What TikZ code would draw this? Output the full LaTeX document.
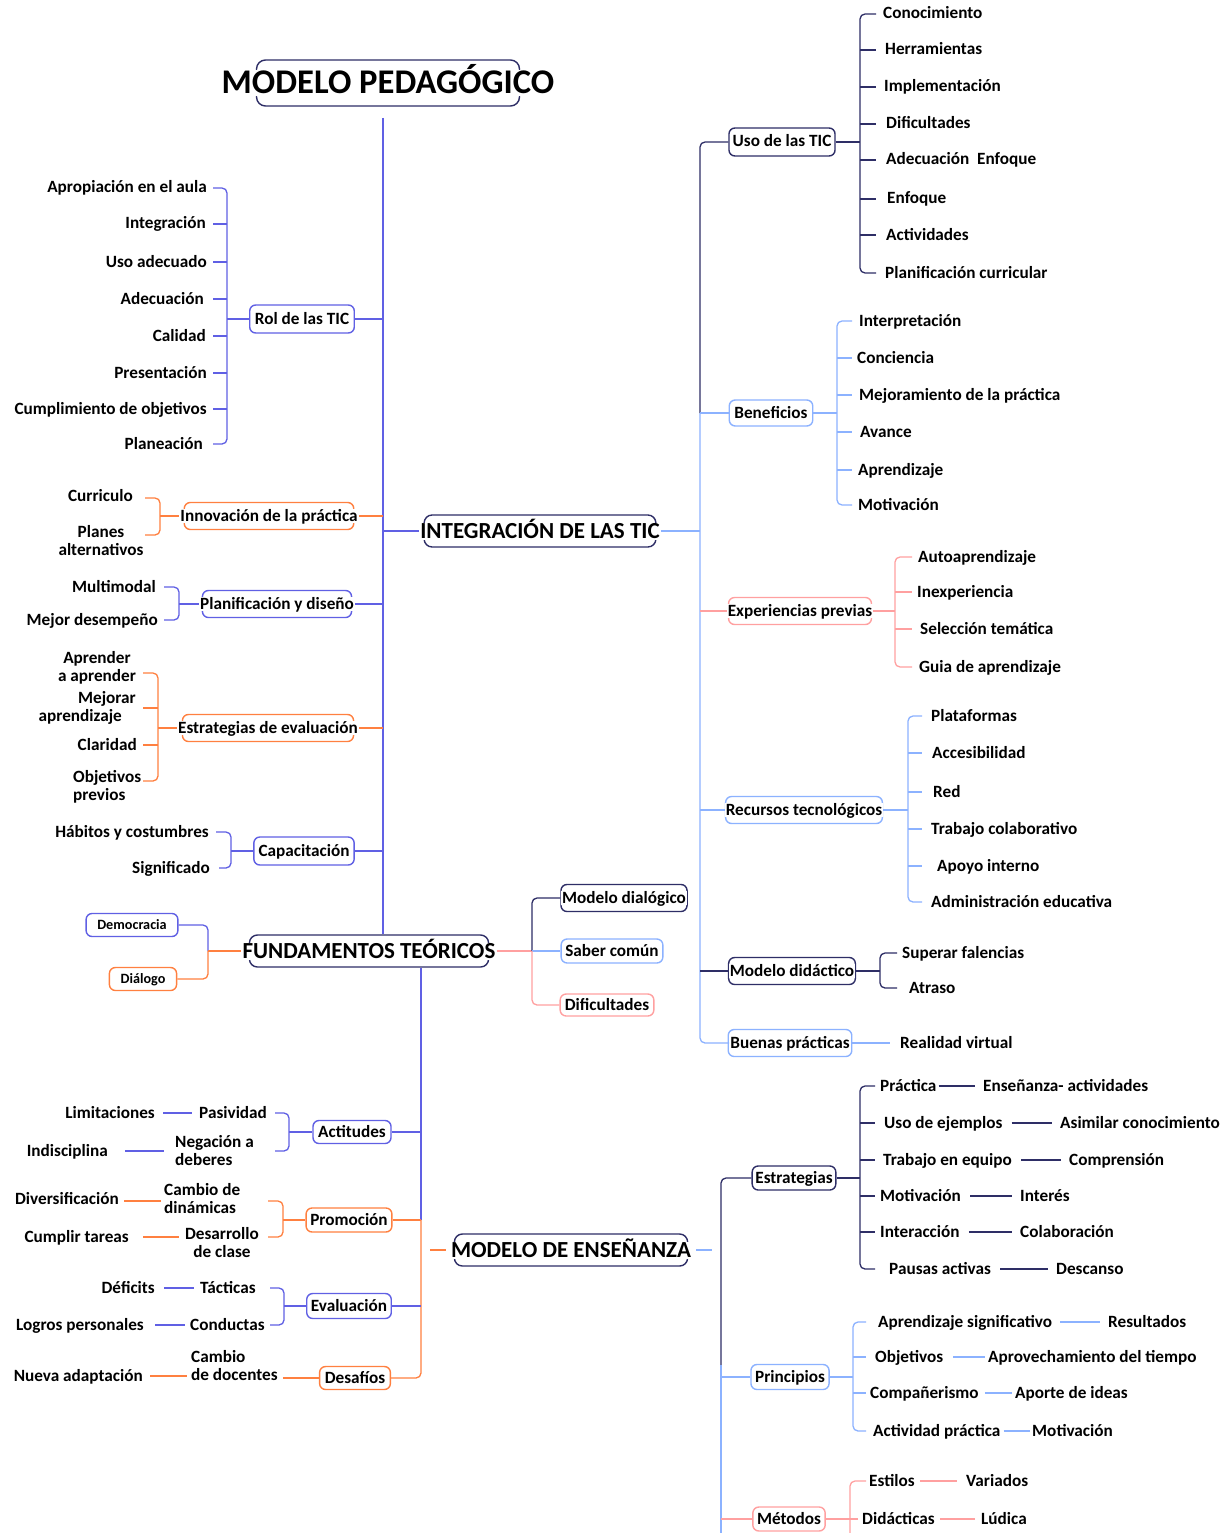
\documentclass[tikz,border=0pt]{standalone}
\usepackage{fontspec}
\setmainfont{Carlito}
\usetikzlibrary{backgrounds,fit,calc}

\definecolor{navy}{RGB}{46,46,102}
\definecolor{peri}{RGB}{96,96,228}
\definecolor{orng}{RGB}{255,128,64}
\definecolor{lblue}{RGB}{140,178,255}
\definecolor{rosa}{RGB}{255,160,160}

\newcommand\fsz[1]{\fontsize{#1}{#1}\selectfont}
% rounded frame around a label: colour, label, horizontal inset, half height, corner radius
\newcommand\mmframe[5]{%
  \node[bframe=#1, rounded corners=#5, inner xsep=0pt, inner ysep=#4,
        fit={([xshift=#3]#2.west) ([xshift=-1*(#3)]#2.east)}] (#2-f) {};}

\tikzset{
  every node/.style={inner sep=0pt, font=\bfseries\fsz{17.2}},
  lf/.style={text height=12pt, text depth=2pt},
  ml/.style={align=#1, font=\bfseries\fontsize{17.2}{18}\selectfont},
  lab/.style={fill=white, inner xsep=1pt, inner ysep=0pt, text height=12pt, text depth=2pt},
  ttl/.style={lab, font=\bfseries\fsz{23}, text height=16pt, text depth=1pt},
  bframe/.style={draw=#1, line width=1.4pt, fill=none},
  ln/.style={draw=#1, line width=1.3pt},
  br/.style={ln=#1, rounded corners=5pt},
}

\begin{document}
\begin{tikzpicture}[x=1pt, y=-1pt]
\useasboundingbox (0,0) rectangle (1230,1533);
\begin{scope}[on background layer]
  \fill[white] (0,0) rectangle (1230,1533);
\end{scope}

% ---------- main labels ----------
\node[ttl, font=\bfseries\fsz{34.6}, text height=24pt, text depth=2pt] (mp) at (388,83) {MODELO PEDAGÓGICO};
\node[ttl] (integ) at (540,531) {INTEGRACIÓN DE LAS TIC};
\node[ttl] (fund)  at (369,951) {FUNDAMENTOS TEÓRICOS};
\node[ttl] (me)    at (571,1250) {MODELO DE ENSEÑANZA};

% ---------- left branch labels ----------
\node[lab] (rol) at (302,319) {Rol de las TIC};
\node[lab] (inn) at (269,516) {Innovación de la práctica};
\node[lab] (pla) at (277,604) {Planificación y diseño};
\node[lab] (eev) at (268,728) {Estrategias de evaluación};
\node[lab] (cap) at (304,851) {Capacitación};
\node[lab, font=\bfseries\fsz{14.2}, text height=10pt, text depth=2pt] (dem) at (132,925) {Democracia};
\node[lab, font=\bfseries\fsz{14.2}, text height=10pt, text depth=2pt] (dia) at (143,979) {Diálogo};
\node[lab] (dial) at (624,898) {Modelo dialógico};
\node[lab] (sab)  at (612,951) {Saber común};
\node[lab] (dif)  at (607,1005) {Dificultades};
\node[lab] (act) at (352,1132) {Actitudes};
\node[lab] (pro) at (349,1220) {Promoción};
\node[lab] (eva) at (349,1306) {Evaluación};
\node[lab] (des) at (355,1378) {Desafíos};

% ---------- right branch labels ----------
\node[lab] (uso) at (782,142) {Uso de las TIC};
\node[lab] (ben) at (771,413) {Beneficios};
\node[lab] (exp) at (800,611) {Experiencias previas};
\node[lab] (rec) at (804,810) {Recursos tecnológicos};
\node[lab] (did) at (792,971) {Modelo didáctico};
\node[lab] (bue) at (790,1043) {Buenas prácticas};
\node[lab] (est) at (794,1178) {Estrategias};
\node[lab] (pri) at (790,1377) {Principios};
\node[lab] (met) at (789,1519) {Métodos};

% ---------- frames ----------
\begin{scope}[on background layer]
  \mmframe{navy}{mp}{36pt}{23pt}{9pt}
  \mmframe{navy}{integ}{5pt}{16pt}{8pt}
  \mmframe{navy}{fund}{8pt}{16pt}{8pt}
  \mmframe{navy}{me}{4.5pt}{16pt}{8pt}
  \mmframe{peri}{rol}{-4pt}{14pt}{6pt}
  \mmframe{orng}{inn}{5pt}{13.5pt}{6pt}
  \mmframe{peri}{pla}{3.5pt}{13.5pt}{6pt}
  \mmframe{orng}{eev}{5.5pt}{13.5pt}{6pt}
  \mmframe{peri}{cap}{-3.5pt}{14pt}{6pt}
  \mmframe{peri}{dem}{-10pt}{11.5pt}{6pt}
  \mmframe{orng}{dia}{-10pt}{11.5pt}{6pt}
  \mmframe{navy}{dial}{0pt}{13.5pt}{6pt}
  \mmframe{lblue}{sab}{-3pt}{12pt}{6pt}
  \mmframe{rosa}{dif}{-3.5pt}{11pt}{6pt}
  \mmframe{peri}{act}{-4pt}{11.5pt}{6pt}
  \mmframe{orng}{pro}{-3pt}{12pt}{6pt}
  \mmframe{peri}{eva}{-3pt}{12.5pt}{6pt}
  \mmframe{orng}{des}{-4pt}{11.5pt}{6pt}
  \mmframe{navy}{uso}{-2.5pt}{14pt}{6pt}
  \mmframe{lblue}{ben}{-4pt}{13pt}{6pt}
  \mmframe{rosa}{exp}{2pt}{13.5pt}{6pt}
  \mmframe{lblue}{rec}{1pt}{13.5pt}{6pt}
  \mmframe{navy}{did}{0pt}{13.5pt}{6pt}
  \mmframe{lblue}{bue}{-1pt}{13.5pt}{6pt}
  \mmframe{navy}{est}{-2pt}{12pt}{6pt}
  \mmframe{lblue}{pri}{-3pt}{12.5pt}{6pt}
  \mmframe{rosa}{met}{-3pt}{12pt}{6pt}
\end{scope}

% ---------- leaves: Rol de las TIC ----------
\node[lf, anchor=east] (r1) at (207,188) {Apropiación en el aula};
\node[lf, anchor=east] (r2) at (206,224) {Integración};
\node[lf, anchor=east] (r3) at (207,262) {Uso adecuado};
\node[lf, anchor=east] (r4) at (204,299) {Adecuación};
\node[lf, anchor=east] (r5) at (206,336) {Calidad};
\node[lf, anchor=east] (r6) at (207,373) {Presentación};
\node[lf, anchor=east] (r7) at (207,409) {Cumplimiento de objetivos};
\node[lf, anchor=east] (r8) at (203,444) {Planeación};

% ---------- leaves: Innovación / Planificación / Estrategias / Capacitación ----------
\node[lf, anchor=east] (cur) at (133,496) {Curriculo};
\node[ml=center] (pal) at (101,541) {Planes\\alternativos};
\node[lf, anchor=east] (mul) at (156,587) {Multimodal};
\node[lf, anchor=east] (mde) at (158,620) {Mejor desempeño};
\node[ml=center] (apr) at (97,668) {Aprender\\a aprender};
\node[ml=right, anchor=east] (mej) at (136,708) {Mejorar\\aprendizaje\hspace*{14pt}};
\node[lf, anchor=east] (cla) at (137,745) {Claridad};
\node[ml=left, anchor=west] (obj) at (73,787) {Objetivos\\previos};
\node[lf, anchor=east] (hab) at (209,832) {Hábitos y costumbres};
\node[lf, anchor=east] (sig) at (210,868) {Significado};

% ---------- leaves: Actitudes / Promoción / Evaluación / Desafíos ----------
\node[lf, anchor=west] (pas) at (199,1113) {Pasividad};
\node[lf, anchor=east] (lim) at (155,1113) {Limitaciones};
\node[ml=left, anchor=west] (neg) at (175,1151) {Negación a\\deberes};
\node[lf, anchor=east] (ind) at (108,1151) {Indisciplina};
\node[ml=left, anchor=west] (cam) at (164,1199) {Cambio de\\dinámicas};
\node[lf, anchor=east] (div) at (119,1199) {Diversificación};
\node[ml=center] (dcl) at (222,1243) {Desarrollo\\de clase};
\node[lf, anchor=east] (cum) at (129,1237) {Cumplir tareas};
\node[lf, anchor=west] (tac) at (200,1288) {Tácticas};
\node[lf, anchor=east] (def) at (155,1288) {Déficits};
\node[lf, anchor=west] (con) at (190,1325) {Conductas};
\node[lf, anchor=east] (log) at (144,1325) {Logros personales};
\node[ml=left, anchor=west] (cdo) at (191,1366) {Cambio\\de docentes};
\node[lf, anchor=east] (nue) at (143,1376) {Nueva adaptación};

% ---------- leaves: Uso de las TIC ----------
\node[lf, anchor=west] (u1) at (883,14) {Conocimiento};
\node[lf, anchor=west] (u2) at (885,50) {Herramientas};
\node[lf, anchor=west] (u3) at (884,87) {Implementación};
\node[lf, anchor=west] (u4) at (886,124) {Dificultades};
\node[lf, anchor=west] (u5) at (886,160) {Adecuación~~Enfoque};
\node[lf, anchor=west] (u6) at (887,199) {Enfoque};
\node[lf, anchor=west] (u7) at (886,235) {Actividades};
\node[lf, anchor=west] (u8) at (885,273) {Planificación curricular};

% ---------- leaves: Beneficios ----------
\node[lf, anchor=west] (b1) at (859,321) {Interpretación};
\node[lf, anchor=west] (b2) at (857,358) {Conciencia};
\node[lf, anchor=west] (b3) at (859,395) {Mejoramiento de la práctica};
\node[lf, anchor=west] (b4) at (860,432) {Avance};
\node[lf, anchor=west] (b5) at (858,470) {Aprendizaje};
\node[lf, anchor=west] (b6) at (858,505) {Motivación};

% ---------- leaves: Experiencias previas ----------
\node[lf, anchor=west] (x1) at (918,557) {Autoaprendizaje};
\node[lf, anchor=west] (x2) at (917,592) {Inexperiencia};
\node[lf, anchor=west] (x3) at (920,629) {Selección temática};
\node[lf, anchor=west] (x4) at (919,667) {Guia de aprendizaje};

% ---------- leaves: Recursos tecnológicos ----------
\node[lf, anchor=west] (c1) at (931,716) {Plataformas};
\node[lf, anchor=west] (c2) at (932,753) {Accesibilidad};
\node[lf, anchor=west] (c3) at (933,792) {Red};
\node[lf, anchor=west] (c4) at (931,829) {Trabajo colaborativo};
\node[lf, anchor=west] (c5) at (937,866) {Apoyo interno};
\node[lf, anchor=west] (c6) at (931,902) {Administración educativa};

% ---------- leaves: Modelo didáctico / Buenas prácticas ----------
\node[lf, anchor=west] (d1) at (902,953) {Superar falencias};
\node[lf, anchor=west] (d2) at (909,988) {Atraso};
\node[lf, anchor=west] (rea) at (900,1043) {Realidad virtual};

% ---------- leaves: Estrategias ----------
\node[lf, anchor=west] (e1) at (880,1086) {Práctica};
\node[lf, anchor=west] (f1) at (983,1086) {Enseñanza- actividades};
\node[lf, anchor=west] (e2) at (884,1123) {Uso de ejemplos};
\node[lf, anchor=west] (f2) at (1060,1123) {Asimilar conocimiento};
\node[lf, anchor=west] (e3) at (883,1160) {Trabajo en equipo};
\node[lf, anchor=west] (f3) at (1069,1160) {Comprensión};
\node[lf, anchor=west] (e4) at (880,1196) {Motivación};
\node[lf, anchor=west] (f4) at (1020,1196) {Interés};
\node[lf, anchor=west] (e5) at (880,1232) {Interacción};
\node[lf, anchor=west] (f5) at (1020,1232) {Colaboración};
\node[lf, anchor=west] (e6) at (889,1269) {Pausas activas};
\node[lf, anchor=west] (f6) at (1056,1269) {Descanso};

% ---------- leaves: Principios ----------
\node[lf, anchor=west] (p1) at (878,1322) {Aprendizaje significativo};
\node[lf, anchor=west] (q1) at (1108,1322) {Resultados};
\node[lf, anchor=west] (p2) at (875,1357) {Objetivos};
\node[lf, anchor=west] (q2) at (988,1357) {Aprovechamiento del tiempo};
\node[lf, anchor=west] (p3) at (870,1393) {Compañerismo};
\node[lf, anchor=west] (q3) at (1015,1393) {Aporte de ideas};
\node[lf, anchor=west] (p4) at (873,1431) {Actividad práctica};
\node[lf, anchor=west] (q4) at (1032,1431) {Motivación};

% ---------- leaves: Métodos ----------
\node[lf, anchor=west] (m1) at (869,1481) {Estilos};
\node[lf, anchor=west] (n1) at (966,1481) {Variados};
\node[lf, anchor=west] (m2) at (862,1519) {Didácticas};
\node[lf, anchor=west] (n2) at (981,1519) {Lúdica};

% ---------- junction points ----------
\coordinate (tt)    at (383,118);
\coordinate (rolB)  at (227,319);
\coordinate (innB)  at (160,516);
\coordinate (plaB)  at (179,604);
\coordinate (eevB)  at (158,728);
\coordinate (capB)  at (231,851);
\coordinate (fundB) at (208,951);
\coordinate (fundR) at (532,951);
\coordinate (fdJ)   at (421,1220);
\coordinate (actB)  at (289,1132);
\coordinate (proB)  at (283,1220);
\coordinate (evaB)  at (284,1306);
\coordinate (meL)   at (430,1250);
\coordinate (meR)   at (712,1250);
\coordinate (rv)    at (700,531);
\coordinate (usoB)  at (860,142);
\coordinate (benB)  at (837,413);
\coordinate (expB)  at (895,611);
\coordinate (recB)  at (908,810);
\coordinate (didB)  at (880,971);
\coordinate (estB)  at (860,1178);
\coordinate (priB)  at (853,1377);
\coordinate (metB)  at (850,1519);
\coordinate (metEnd) at (850,1533);
\coordinate (mvMid) at (721,1365);
\coordinate (mvEnd) at (721,1533);

% ---------- trunk ----------
\draw[ln=peri] (tt) -- (tt |- fund-f.north);
\draw[ln=peri] (integ.west -| tt) -- (integ.west);

% Rol de las TIC
\draw[br=peri] (r1.east -| rolB) ++(-14,0) -- (r1.east -| rolB) -- (r8.east -| rolB) -- ++(-14,0);
\foreach \n in {r2,r3,r4,r5,r6,r7} \draw[ln=peri] (\n.east -| rolB) -- ++(-14,0);
\draw[ln=peri] (rolB) -- (rol-f.west);
\draw[ln=peri] (rol-f.east) -- (rol-f.east -| tt);

% Innovación de la práctica
\draw[br=orng] ($(cur.east -| innB)+(-15,2)$) -- ($(cur.east -| innB)+(0,2)$) -- ($(pal.east -| innB)+(0,-6)$) -- ++(-15,0);
\draw[ln=orng] (innB) -- (inn.west);
\draw[ln=orng] (inn.east) -- (inn.east -| tt);

% Planificación y diseño
\draw[br=peri] (mul.east -| plaB) ++(-15,0) -- (mul.east -| plaB) -- (mde.east -| plaB) -- ++(-15,0);
\draw[ln=peri] (plaB) -- (pla.west);
\draw[ln=peri] (pla.east) -- (pla.east -| tt);

% Estrategias de evaluación
\draw[br=orng] ($(apr.east -| eevB)+(-15,5)$) -- ($(apr.east -| eevB)+(0,5)$) -- ($(obj.east -| eevB)+(0,-6)$) -- ++(-15,0);
\draw[ln=orng] (mej.east -| eevB) -- ++(-15,0);
\draw[ln=orng] (cla.east -| eevB) -- ++(-15,0);
\draw[ln=orng] (eevB) -- (eev.west);
\draw[ln=orng] (eev.east) -- (eev.east -| tt);

% Capacitación
\draw[br=peri] (hab.east -| capB) ++(-15,0) -- (hab.east -| capB) -- (sig.east -| capB) -- ++(-12,0);
\draw[ln=peri] (capB) -- (cap-f.west);
\draw[ln=peri] (cap-f.east) -- (cap-f.east -| tt);

% Fundamentos teóricos
\draw[br=peri] (dem-f.east) -| (fundB);
\draw[br=orng] (fundB) |- (dia-f.east);
\draw[ln=orng] (fundB) -- (fund.west);
\draw[ln=rosa] (fund.east) -- (fundR);
\draw[br=navy] (fundR) |- (dial-f.west);
\draw[ln=lblue] (fundR) -- (sab-f.west);
\draw[br=rosa] (fundR) |- (dif-f.west);

% stem below Fundamentos teóricos
\draw[ln=peri] (fund-f.south -| fdJ) -- (fdJ);
\draw[ln=peri] (act-f.east) -- (act-f.east -| fdJ);
\draw[br=orng] (fdJ) |- (des-f.east);
\draw[ln=orng] (pro-f.east) -- (fdJ);
\draw[ln=peri] (eva-f.east) -- (eva-f.east -| fdJ);

% Actitudes
\draw[br=peri] (pas.east -| actB) ++(-14,0) -- (pas.east -| actB) -- (neg.east -| actB) -- ++(-14,0);
\draw[ln=peri] (actB) -- (act-f.west);
\draw[ln=peri] ([xshift=8pt]lim.east) -- ([xshift=-7pt]pas.west);
\draw[ln=peri] ([xshift=17pt]ind.east) -- ([xshift=-11pt]neg.west);

% Promoción
\draw[br=orng] ($(cam.east -| proB)+(-15,2)$) -- ($(cam.east -| proB)+(0,2)$) -- ($(dcl.east -| proB)+(0,-6)$) -- ++(-15,0);
\draw[ln=orng] (proB) -- (pro-f.west);
\draw[ln=orng] ($(div.east)+(5,2)$) -- ($(cam.west)+(-3,2)$);
\draw[ln=orng] ([xshift=14pt]cum.east) -- ($(dcl.west)+(-6,-6)$);

% Evaluación
\draw[br=peri] (tac.east -| evaB) ++(-14,0) -- (tac.east -| evaB) -- (con.east -| evaB) -- ++(-14,0);
\draw[ln=peri] (evaB) -- (eva-f.west);
\draw[ln=peri] ([xshift=9pt]def.east) -- ([xshift=-6pt]tac.west);
\draw[ln=peri] ([xshift=11pt]log.east) -- ([xshift=-5pt]con.west);

% Desafíos
\draw[ln=orng] ($(cdo.east)+(5,12)$) -- (des-f.west);
\draw[ln=orng] ([xshift=7pt]nue.east) -- ($(cdo.west)+(-4,10)$);

% Modelo de enseñanza stubs
\draw[ln=orng] (meL) -- ([xshift=-4pt]me.west);
\draw[ln=lblue] ([xshift=4pt]me.east) -- (meR);

% ---------- right side of Integración de las TIC ----------
\draw[ln=lblue] (integ.east) -- (rv);
\draw[br=navy] (uso-f.west) -| (rv |- ben-f.west);
\draw[br=lblue] (rv |- ben-f.west) |- (bue.west);
\draw[ln=lblue] (ben-f.west) -- (ben-f.west -| rv);
\draw[ln=rosa] (exp.west) -- (exp.west -| rv);
\draw[ln=lblue] (rec.west) -- (rec.west -| rv);
\draw[ln=navy] (did.west) -- (did.west -| rv);

% Uso de las TIC
\draw[ln=navy] (uso-f.east) -- (usoB);
\draw[br=navy] (u1.west -| usoB) ++(16,0) -- (u1.west -| usoB) -- (u8.west -| usoB) -- ++(16,0);
\foreach \n in {u2,u3,u4,u5,u6,u7} \draw[ln=navy] (\n.west -| usoB) -- ++(16,0);

% Beneficios
\draw[ln=lblue] (ben-f.east) -- (benB);
\draw[br=lblue] (b1.west -| benB) ++(15,0) -- (b1.west -| benB) -- (b6.west -| benB) -- ++(15,0);
\foreach \n in {b2,b3,b4,b5} \draw[ln=lblue] (\n.west -| benB) -- ++(15,0);

% Experiencias previas
\draw[ln=rosa] (exp.east) -- (expB);
\draw[br=rosa] (x1.west -| expB) ++(17,0) -- (x1.west -| expB) -- (x4.west -| expB) -- ++(17,0);
\foreach \n in {x2,x3} \draw[ln=rosa] (\n.west -| expB) -- ++(17,0);

% Recursos tecnológicos
\draw[ln=lblue] (rec.east) -- (recB);
\draw[br=lblue] (c1.west -| recB) ++(14,0) -- (c1.west -| recB) -- (c6.west -| recB) -- ++(14,0);
\foreach \n in {c2,c3,c4,c5} \draw[ln=lblue] (\n.west -| recB) -- ++(14,0);

% Modelo didáctico
\draw[ln=navy] (did-f.east) -- (didB);
\draw[br=navy] (d1.west -| didB) ++(17,0) -- (d1.west -| didB) -- (d2.west -| didB) -- ++(17,0);

% Buenas prácticas
\draw[ln=lblue] (bue.east) -- ([xshift=-10pt]rea.west);

% ---------- Modelo de enseñanza ----------
\draw[br=navy] (est-f.west) -| (mvMid);
\draw[ln=lblue] (mvMid) -- (mvEnd);
\draw[ln=lblue] (pri-f.west) -- (pri-f.west -| mvMid);
\draw[ln=rosa] (met-f.west) -- (met-f.west -| mvMid);

% Estrategias
\draw[ln=navy] (est-f.east) -- (estB);
\draw[br=navy] (e1.west -| estB) ++(15,0) -- (e1.west -| estB) -- (e6.west -| estB) -- ++(15,0);
\foreach \n in {e2,e3,e4,e5} \draw[ln=navy] (\n.west -| estB) -- ++(15,0);
\draw[ln=navy] ([xshift=2pt]e1.east) -- ([xshift=-8pt]f1.west);
\foreach \a/\b in {e2/f2,e3/f3,e4/f4,e5/f5,e6/f6} \draw[ln=navy] ([xshift=9pt]\a.east) -- ([xshift=-8pt]\b.west);

% Principios
\draw[ln=lblue] (pri-f.east) -- (priB);
\draw[br=lblue] (p1.west -| priB) ++(13,0) -- (p1.west -| priB) -- (p4.west -| priB) -- ++(13,0);
\foreach \n in {p2,p3} \draw[ln=lblue] (\n.west -| priB) -- ++(13,0);
\draw[ln=lblue] ([xshift=8pt]p1.east) -- ([xshift=-8pt]q1.west);
\draw[ln=lblue] ([xshift=10pt]p2.east) -- ([xshift=-3pt]q2.west);
\draw[ln=lblue] ([xshift=6pt]p3.east) -- ([xshift=-3pt]q3.west);
\draw[ln=lblue] ([xshift=3pt]p4.east) -- ([xshift=-2pt]q4.west);

% Métodos
\draw[ln=rosa] (met-f.east) -- ([xshift=-4pt]m2.west);
\draw[br=rosa] (m1.west -| metB) ++(16,0) -- (m1.west -| metB) -- (metEnd);
\draw[ln=rosa] ([xshift=5pt]m1.east) -- ([xshift=-9pt]n1.west);
\draw[ln=rosa] ([xshift=5pt]m2.east) -- ([xshift=-6pt]n2.west);
\end{tikzpicture}
\end{document}
